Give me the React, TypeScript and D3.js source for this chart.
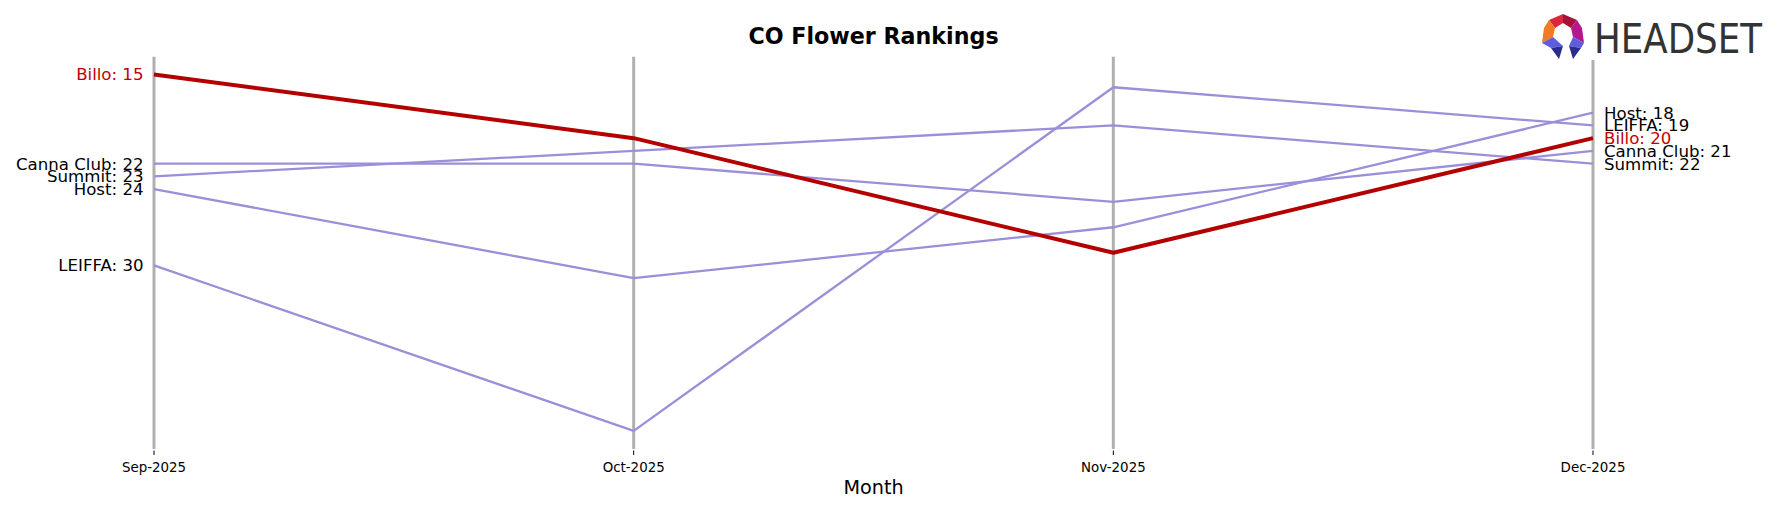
import React from "react";
import * as d3 from "d3";

const months = ["Sep-2025", "Oct-2025", "Nov-2025", "Dec-2025"];
const brands = ["Canna Club", "Summit", "Host", "LEIFFA", "Billo"];
const cannaClub = [22, 22, 25, 21];
const summit = [23, 21, 19, 22];
const host = [24, 31, 27, 18];
const leiffa = [30, 43, 16, 19];
const billo = [15, 20, 29, 20];
const highlight = "Billo";

const seriesValues: Record<string, number[]> = {
  "Canna Club": cannaClub,
  Summit: summit,
  Host: host,
  LEIFFA: leiffa,
  Billo: billo,
};

const W = 1777;
const H = 507;
const FONT = "DejaVu Sans, sans-serif";
const PURPLE = "#9b8fd9";
const RED = "#b30000";
const RED_TEXT = "#c00000";

export default function App() {
  const x = d3.scalePoint<string>().domain(months).range([154, 1593]);
  const y = d3.scaleLinear().domain([13.6, 44.5]).range([56.7, 450]);
  const line = d3
    .line<number>()
    .x((_, i) => x(months[i]) as number)
    .y((d) => y(d));

  const order = brands.filter((b) => b !== highlight).concat([highlight]);

  return (
    <svg
      width={W}
      height={H}
      style={{ position: "fixed", left: 0, top: 0, background: "#fff" }}
      fontFamily={FONT}
    >
      <rect x={0} y={0} width={W} height={H} fill="#fff" />
      {/* grid lines */}
      {months.map((m) => (
        <g key={m}>
          <line x1={x(m)} x2={x(m)} y1={y(13.6)} y2={449} stroke="#b0b0b0" strokeWidth={3} />
          <line x1={x(m)} x2={x(m)} y1={450.5} y2={455} stroke="#000" strokeWidth={1} />
          <text x={x(m)} y={472} textAnchor="middle" fontSize={13.4} fill="#000">
            {m}
          </text>
        </g>
      ))}
      {/* lines */}
      {order.map((b) => (
        <path
          key={b}
          d={line(seriesValues[b]) || ""}
          fill="none"
          stroke={b === highlight ? RED : PURPLE}
          strokeWidth={b === highlight ? 4 : 2.3}
          strokeLinejoin="round"
        />
      ))}
      {/* left labels */}
      {brands.map((b) => (
        <text
          key={"l" + b}
          x={(x(months[0]) as number) - 10.5}
          y={y(seriesValues[b][0])}
          dy="0.36em"
          textAnchor="end"
          fontSize={16.6}
          fill={b === highlight ? RED_TEXT : "#000"}
        >
          {`${b}: ${seriesValues[b][0]}`}
        </text>
      ))}
      {/* right labels */}
      {brands.map((b) => (
        <text
          key={"r" + b}
          x={(x(months[months.length - 1]) as number) + 11}
          y={y(seriesValues[b][months.length - 1])}
          dy="0.36em"
          textAnchor="start"
          fontSize={16.6}
          fill={b === highlight ? RED_TEXT : "#000"}
        >
          {`${b}: ${seriesValues[b][months.length - 1]}`}
        </text>
      ))}
      {/* title */}
      <text x={873.5} y={44} textAnchor="middle" fontSize={22.2} fontWeight="bold" fill="#000">
        CO Flower Rankings
      </text>
      <text x={873.5} y={494} textAnchor="middle" fontSize={19.2} fill="#000">
        Month
      </text>
      {/* logo */}
      <g>
        <rect x={1536} y={8} width={236} height={52} fill="#fff" />
        <polygon points="1549,20 1563,14 1563,23 1555,28" fill="#d8283a" />
        <polygon points="1563,14 1577,20 1571,28 1563,23" fill="#a8123a" />
        <polygon points="1549,20 1555,28 1553,37 1542,43 1544,28" fill="#f37a24" />
        <polygon points="1577,20 1582,28 1584,43 1573,37 1571,28" fill="#b5188e" />
        <polygon points="1542,43 1553,37 1563,46 1551,48" fill="#5e5edc" />
        <polygon points="1551,48 1563,46 1559,59" fill="#2b2d8c" />
        <polygon points="1584,43 1573,37 1569,46 1581,48" fill="#5e5edc" />
        <polygon points="1581,48 1569,46 1573,59" fill="#2b2d8c" />
        <text
          x={1594}
          y={53}
          fontSize={41}
          fontFamily="Liberation Sans Narrow, DejaVu Sans Condensed, sans-serif"
          fill="#333"
          textLength={168}
          lengthAdjust="spacingAndGlyphs"
        >
          HEADSET
        </text>
      </g>
    </svg>
  );
}
